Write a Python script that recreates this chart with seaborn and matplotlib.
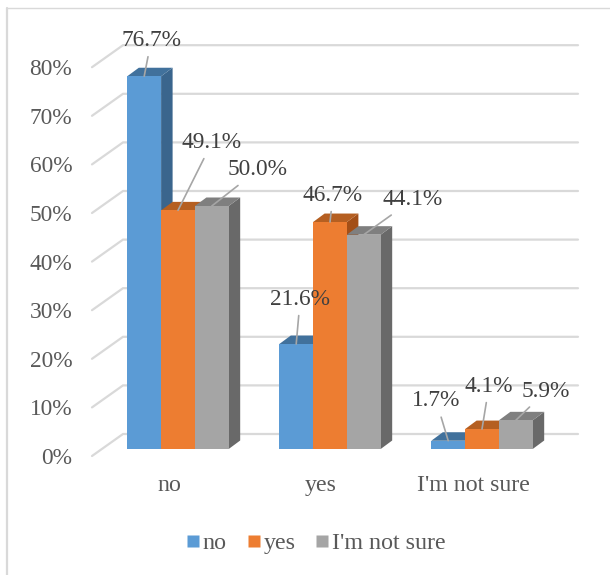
import matplotlib
matplotlib.use("Agg")
import matplotlib.pyplot as plt
import pandas as pd
import seaborn as sns
from matplotlib.lines import Line2D
from matplotlib.patches import Polygon
from matplotlib.transforms import Affine2D

# ---- data ----
categories = ["no", "yes", "I'm not sure"]
series_names = ["no", "yes", "I'm not sure"]
values_no = [76.7, 21.6, 1.7]
values_yes = [49.1, 46.7, 4.1]
values_unsure = [50.0, 44.1, 5.9]
y_ticks = [0, 10, 20, 30, 40, 50, 60, 70, 80]

# ---- style / layout (pixels at 100 dpi) ----
W, H = 610, 575
front_colors = ["#5B9BD5", "#ED7D31", "#A5A5A5"]
top_colors = ["#41719C", "#B55F21", "#7F7F7F"]
side_colors = ["#3A658D", "#A34F17", "#696969"]
SERIF = "Liberation Serif"
DEPTH_X, DEPTH_Y = 11.5, 8.5
# label centre relative to the front-top centre of each bar
label_offsets = [
    [(7, 36), (34, 68), (46, 36)],
    [(4, 45), (3, 27), (49, 35)],
    [(-12, 40), (7, 43), (30, 29)],
]

df = pd.DataFrame({
    "category": categories * 3,
    "series": [s for s in series_names for _ in categories],
    "value": values_no + values_yes + values_unsure,
})

sns.set_theme(style="white")
plt.rcParams["font.family"] = [SERIF, "DejaVu Serif"]

fig = plt.figure(figsize=(W / 100, H / 100), dpi=100)
ax = fig.add_axes([102 / W, 1 - 449 / H, 456 / W, 388.8 / H])
ax.patch.set_alpha(0)

sns.barplot(
    data=df, x="category", y="value", hue="series", order=categories,
    hue_order=series_names, palette=front_colors, width=0.667, gap=0,
    saturation=1, dodge=True, legend=False, ax=ax, zorder=20, errorbar=None,
    linewidth=0,
)
ax.set_xlim(-0.5, 2.5)
ax.set_ylim(0, 80)
ax.set_xlabel("")
ax.set_ylabel("")
sns.despine(ax=ax, left=True, bottom=True)

px_x = 3.0 / 456
px_y = 80 / 388.8


def x_of(px):
    return -0.5 + (px - 102) * px_x


# gridlines with the receding floor/wall stubs
for t in y_ticks:
    y_back = t + 15 * px_y
    y_front = t - 7 * px_y
    ax.plot([x_of(92), x_of(123), x_of(578)], [y_front, y_back, y_back],
            color="#D9D9D9", lw=1.6, clip_on=False, zorder=1,
            solid_joinstyle="miter")

# depth faces and data labels
dx, dy = DEPTH_X * px_x, DEPTH_Y * px_y
for s, container in enumerate(ax.containers):
    for c, bar in enumerate(container):
        x0, w, h = bar.get_x(), bar.get_width(), bar.get_height()
        x1 = x0 + w
        ax.add_patch(Polygon([(x1, 0), (x1 + dx, dy), (x1 + dx, h + dy), (x1, h)],
                             closed=True, fc=side_colors[s], ec="none",
                             clip_on=False, zorder=3 + s))
        ax.add_patch(Polygon([(x0, h), (x0 + dx, h + dy), (x1 + dx, h + dy), (x1, h)],
                             closed=True, fc=top_colors[s], ec="none",
                             clip_on=False, zorder=3 + s))
        ox, oy = label_offsets[c][s]
        ax.annotate(
            f"{h:.1f}%", xy=(x0 + w / 2, h), xytext=(ox, oy),
            textcoords="offset pixels", ha="center", va="center",
            fontsize=16.8, color="#404040", zorder=40, annotation_clip=False,
            arrowprops=dict(arrowstyle="-", color="#A6A6A6", lw=1.2,
                            shrinkA=2, shrinkB=0),
        )

# axis labels
ax.set_xticks(range(len(categories)), categories)
ax.set_yticks(y_ticks, [f"{t}%" for t in y_ticks])
ax.tick_params(axis="x", length=0, pad=19, labelsize=17.2, labelcolor="#595959")
ax.tick_params(axis="y", length=0, pad=21.5, labelsize=16.8, labelcolor="#595959")
y_shift = Affine2D().translate(0, -7)
for lab in ax.get_yticklabels():
    lab.set_transform(lab.get_transform() + y_shift)
    lab.set_fontfamily(SERIF)
x_shift = Affine2D().translate(-9, 0)
for lab in ax.get_xticklabels():
    lab.set_transform(lab.get_transform() + x_shift)
    lab.set_fontfamily(SERIF)

# legend
handles = [Line2D([], [], marker="s", ls="none", ms=8.8, mfc=col, mec="none")
           for col in front_colors]
ax.legend(handles, series_names, loc="center", ncol=3, frameon=False,
          bbox_to_anchor=(316 / W, 1 - 543 / H), bbox_transform=fig.transFigure,
          fontsize=17.3, labelcolor="#595959", handlelength=0.55, handletextpad=0.12,
          columnspacing=0.85, borderpad=0, borderaxespad=0)

# chart frame: only the top and left edges are in the crop
fig.add_artist(Line2D([7 / W, 1], [1 - 7.5 / H] * 2, color="#D9D9D9", lw=1.0))
fig.add_artist(Line2D([7 / W] * 2, [0, 1 - 7.5 / H], color="#D9D9D9", lw=1.6))

fig.savefig("out.png", dpi=100, facecolor="white")
